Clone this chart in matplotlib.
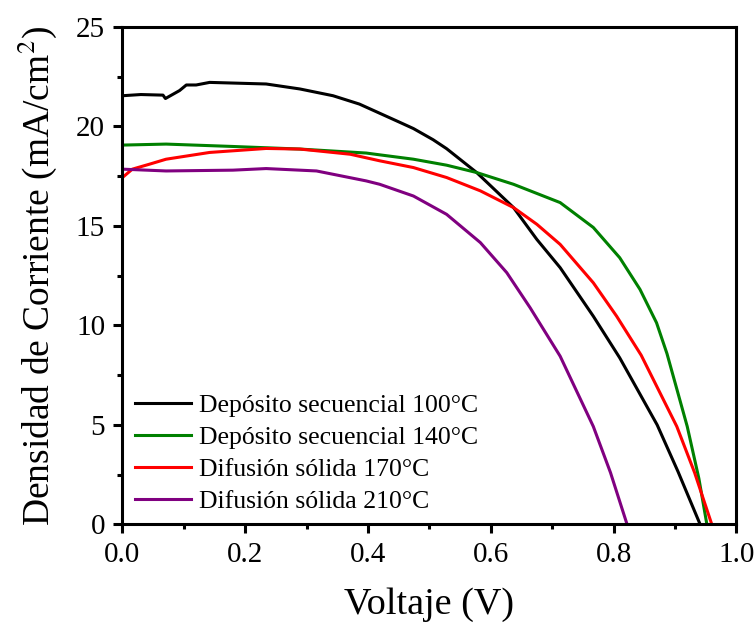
import matplotlib.pyplot as plt
from matplotlib.ticker import MultipleLocator

# J-V curves of the four perovskite cells (voltage in V, current density in mA/cm2)
v_100 = [0.0, 0.03, 0.066, 0.07, 0.093, 0.104, 0.12, 0.142, 0.234, 0.289, 0.343, 0.386,
         0.452, 0.474, 0.506, 0.528, 0.577, 0.637, 0.675, 0.713, 0.767, 0.81, 0.871, 0.905, 0.941]
j_100 = [21.54, 21.6, 21.57, 21.4, 21.8, 22.08, 22.08, 22.21, 22.13, 21.88, 21.54, 21.12,
         20.2, 19.89, 19.33, 18.88, 17.68, 15.92, 14.32, 12.9, 10.46, 8.37, 5.0, 2.65, 0.0]

v_140 = [0.0, 0.071, 0.18, 0.289, 0.397, 0.419, 0.474, 0.528, 0.577, 0.637, 0.713, 0.767,
         0.81, 0.843, 0.87, 0.887, 0.92, 0.939, 0.952]
j_140 = [19.06, 19.11, 18.99, 18.86, 18.66, 18.57, 18.35, 18.05, 17.68, 17.09, 16.17, 14.92,
         13.4, 11.81, 10.13, 8.58, 4.92, 2.3, 0.0]

v_170 = [0.0, 0.016, 0.044, 0.071, 0.142, 0.234, 0.289, 0.371, 0.419, 0.474, 0.528, 0.583,
         0.637, 0.675, 0.713, 0.767, 0.805, 0.845, 0.903, 0.932, 0.96]
j_170 = [17.43, 17.85, 18.1, 18.35, 18.69, 18.89, 18.86, 18.6, 18.27, 17.93, 17.43, 16.76,
         15.92, 15.08, 14.07, 12.14, 10.46, 8.5, 4.92, 2.6, 0.0]

v_210 = [0.0, 0.071, 0.18, 0.234, 0.316, 0.397, 0.419, 0.474, 0.528, 0.583, 0.626, 0.664,
         0.713, 0.767, 0.795, 0.822]
j_210 = [17.85, 17.76, 17.8, 17.88, 17.76, 17.26, 17.09, 16.5, 15.58, 14.16, 12.65, 10.89,
         8.45, 4.92, 2.6, 0.0]

labels = ["Depósito secuencial 100°C", "Depósito secuencial 140°C",
          "Difusión sólida 170°C", "Difusión sólida 210°C"]
colors = ["black", "green", "red", "purple"]

plt.rcParams['font.family'] = ['Liberation Serif', 'DejaVu Serif']
plt.rcParams['mathtext.fontset'] = 'stix'

fig = plt.figure(figsize=(7.56, 6.25), dpi=100)
ax = fig.add_axes([0.162, 0.161, 0.812, 0.796])

curves = [(v_100, j_100), (v_140, j_140), (v_170, j_170), (v_210, j_210)]
for (v, j), lab, col in zip(curves, labels, colors):
    ax.plot(v, j, color=col, lw=2.2, label=lab)

ax.set_xlim(0, 1.0)
ax.set_ylim(0, 25)
ax.xaxis.set_major_locator(MultipleLocator(0.2))
ax.xaxis.set_minor_locator(MultipleLocator(0.1))
ax.yaxis.set_major_locator(MultipleLocator(5))
ax.yaxis.set_minor_locator(MultipleLocator(2.5))
ax.xaxis.set_major_formatter(plt.FormatStrFormatter('%.1f'))

for s in ax.spines.values():
    s.set_linewidth(2.2)
ax.tick_params(which='major', direction='out', length=6.5, width=2.2, labelsize=21, pad=6)
ax.tick_params(which='minor', direction='out', length=3.6, width=2.2)

ax.set_xlabel("Voltaje (V)", fontsize=27.5, labelpad=14)
ax.set_ylabel("Densidad de Corriente (mA/cm$^2$)", fontsize=27, labelpad=12)

ax.legend(loc='lower left', bbox_to_anchor=(0.003, 0.003), frameon=False, fontsize=18.5,
          handlelength=2.2, handletextpad=0.3, labelspacing=0.35, borderaxespad=0.0)

fig.savefig("out.png", dpi=100)
